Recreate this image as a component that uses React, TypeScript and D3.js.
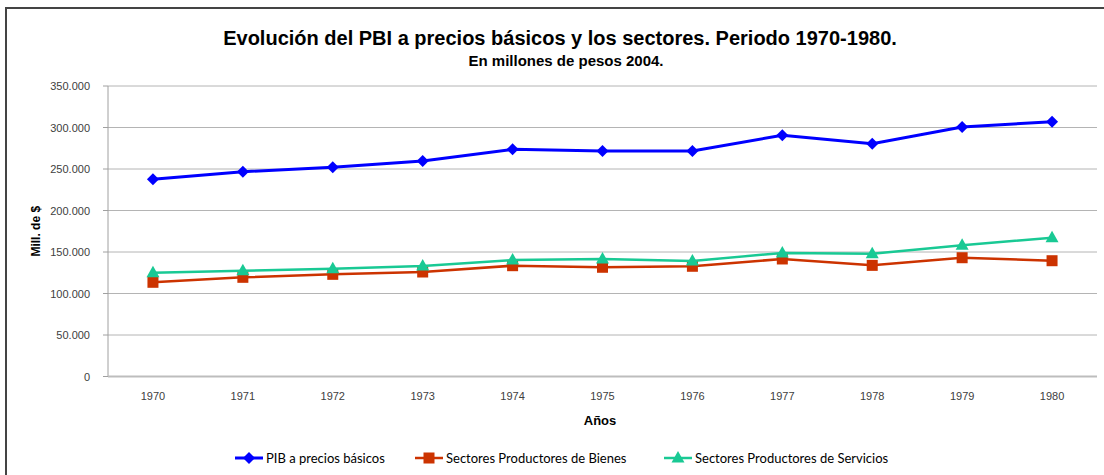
import * as d3 from 'd3';

// categories (years) and the three series, in millions of pesos 2004
const years = ['1970', '1971', '1972', '1973', '1974', '1975', '1976', '1977', '1978', '1979', '1980'];
const pib = [237.6, 246.7, 252.0, 259.6, 273.7, 271.7, 271.7, 290.6, 280.5, 300.6, 307.0].map((v) => v * 1000);
const bienes = [113.5, 119.5, 123.1, 125.9, 133.5, 131.6, 132.8, 141.6, 133.9, 143.1, 139.5].map((v) => v * 1000);
const servicios = [125.0, 127.5, 129.9, 133.0, 140.4, 141.6, 139.2, 148.8, 148.0, 158.0, 167.2].map((v) => v * 1000);
const yTicks = [0, 50000, 100000, 150000, 200000, 250000, 300000, 350000];

const seriesNames = ['PIB a precios básicos', 'Sectores Productores de Bienes', 'Sectores Productores de Servicios'];

export default function App() {
  const width = 1104;
  const height = 475;
  const plot = { left: 108, right: 1097, top: 86, bottom: 376.5 };

  const xScale = d3.scaleBand().domain(years).range([plot.left, plot.right]);
  const xc = (y: string) => (xScale(y) as number) + xScale.bandwidth() / 2;
  const yScale = d3.scaleLinear().domain([0, 350000]).range([plot.bottom, plot.top]);

  const fmt = (v: number) => d3.format(',')(v).replace(/,/g, '.');

  const line = d3
    .line<number>()
    .x((_, i) => xc(years[i]))
    .y((d) => yScale(d));

  const series = [
    { name: seriesNames[0], values: pib, color: '#0000FF', marker: 'diamond', sw: 3 },
    { name: seriesNames[1], values: bienes, color: '#CC3300', marker: 'square', sw: 2.5 },
    { name: seriesNames[2], values: servicios, color: '#19C994', marker: 'triangle', sw: 2.5 },
  ];

  const marker = (type: string, x: number, y: number, color: string, key: string) => {
    if (type === 'diamond') {
      return <path key={key} d={`M${x},${y - 6}L${x + 6},${y}L${x},${y + 6}L${x - 6},${y}Z`} fill={color} />;
    }
    if (type === 'square') {
      return <rect key={key} x={x - 5.5} y={y - 5.5} width={11} height={11} fill={color} />;
    }
    return <path key={key} d={`M${x},${y - 7}L${x + 6.5},${y + 4.5}L${x - 6.5},${y + 4.5}Z`} fill={color} />;
  };

  const legendX = [235, 415, 664];
  const legendY = 458;

  return (
    <svg
      width={width}
      height={height}
      style={{ position: 'absolute', left: 0, top: 0, background: '#fff' }}
      fontFamily="'Liberation Sans', Arial, sans-serif"
    >
      {/* chart frame */}
      <path d={`M6,${height + 2}V8H${width + 2}`} fill="none" stroke="#444" strokeWidth={2} />

      {/* titles */}
      <text x={560} y={45} textAnchor="middle" fontSize={20} fontWeight="bold" fill="#000">
        Evolución del PBI a precios básicos y los sectores. Periodo 1970-1980.
      </text>
      <text x={566} y={66} textAnchor="middle" fontSize={15} fontWeight="bold" fill="#000">
        En millones de pesos 2004.
      </text>

      {/* gridlines + y labels */}
      {yTicks.map((t) => (
        <g key={t}>
          {t > 0 && (
            <line x1={plot.left} x2={plot.right} y1={yScale(t)} y2={yScale(t)} stroke="#B4B4B4" strokeWidth={1} />
          )}
          <line x1={plot.left - 5} x2={plot.left} y1={yScale(t)} y2={yScale(t)} stroke="#A0A0A0" />
          <text x={90} y={yScale(t) + 4} textAnchor="end" fontSize={11} fill="#404040">
            {fmt(t)}
          </text>
        </g>
      ))}

      {/* axes */}
      <line x1={plot.left} x2={plot.left} y1={plot.top} y2={plot.bottom} stroke="#A0A0A0" />
      <line x1={plot.left} x2={plot.right} y1={plot.bottom} y2={plot.bottom} stroke="#BDBDBD" strokeWidth={2} />
      {years.map((y) => (
        <text key={y} x={xc(y)} y={400} textAnchor="middle" fontSize={11} fill="#404040">
          {y}
        </text>
      ))}

      <text x={600} y={425} textAnchor="middle" fontSize={13} fontWeight="bold" fill="#000">
        Años
      </text>
      <text
        transform={`translate(40, ${(plot.top + plot.bottom) / 2}) rotate(-90)`}
        textAnchor="middle"
        fontSize={12}
        fontWeight="bold"
        fill="#000"
      >
        Mill. de $
      </text>

      {/* series */}
      {series.map((s) => (
        <g key={s.name}>
          <path d={line(s.values) ?? ''} fill="none" stroke={s.color} strokeWidth={s.sw} />
          {s.values.map((v, i) => marker(s.marker, xc(years[i]), yScale(v), s.color, `${s.name}-${i}`))}
        </g>
      ))}

      {/* legend */}
      {series.map((s, i) => (
        <g key={`leg-${s.name}`}>
          <line x1={legendX[i]} x2={legendX[i] + 28} y1={legendY} y2={legendY} stroke={s.color} strokeWidth={s.sw} />
          {marker(s.marker, legendX[i] + 14, legendY, s.color, `lm-${i}`)}
          <text x={legendX[i] + 31} y={legendY + 4.5} fontSize={13} fontFamily="Lato, sans-serif" fill="#000">
            {s.name}
          </text>
        </g>
      ))}
    </svg>
  );
}
